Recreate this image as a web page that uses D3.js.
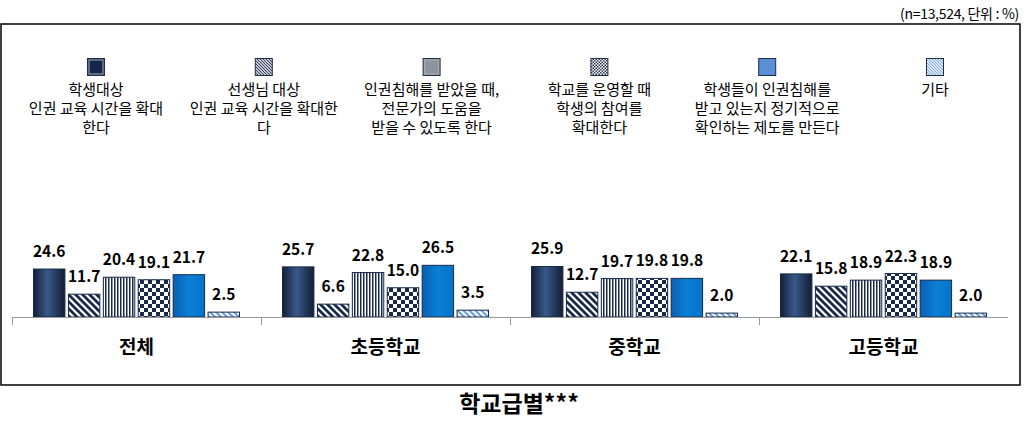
<!DOCTYPE html>
<html><head><meta charset="utf-8">
<script src="https://cdn.jsdelivr.net/npm/d3@7"></script>
<style>
body{margin:0;background:#fff;}
svg text{font-family:"Noto Sans CJK KR","Noto Sans",sans-serif;}
</style></head>
<body><svg id="c" width="1031" height="434"></svg>
<script>
const categories = ["전체","초등학교","중학교","고등학교"];
const seriesNames = [
  ["학생대상","인권 교육 시간을 확대","한다"],
  ["선생님 대상","인권 교육 시간을 확대한","다"],
  ["인권침해를 받았을 때,","전문가의 도움을","받을 수 있도록 한다"],
  ["학교를 운영할 때","학생의 참여를","확대한다"],
  ["학생들이 인권침해를","받고 있는지 정기적으로","확인하는 제도를 만든다"],
  ["기타"]
];
const s1 = [24.6,25.7,25.9,22.1];
const s2 = [11.7,6.6,12.7,15.8];
const s3 = [20.4,22.8,19.7,18.9];
const s4 = [19.1,15.0,19.8,22.3];
const s5 = [21.7,26.5,19.8,18.9];
const s6 = [2.5,3.5,2.0,2.0];
const seriesValues = [s1,s2,s3,s4,s5,s6];
const noteText = "(n=13,524, 단위 : %)";
const titleText = "학교급별***";

const svg = d3.select("#c");
const defs = svg.append("defs");
const navy = "#172a4a";

function hgrad(id, stops){
  const g = defs.append("linearGradient").attr("id",id).attr("x1","0%").attr("x2","100%").attr("y1","0").attr("y2","0");
  stops.forEach(s=>g.append("stop").attr("offset",s[0]).attr("stop-color",s[1]));
}
hgrad("g1",[["0%","#132038"],["45%","#38598a"],["100%","#121d33"]]);
hgrad("g5",[["0%","#0a5fb2"],["50%","#0a7fd6"],["100%","#0673c9"]]);

function pattern(id,w,h,draw){
  const p = defs.append("pattern").attr("id",id).attr("patternUnits","userSpaceOnUse").attr("width",w).attr("height",h);
  draw(p);
}
pattern("p2",7,7,p=>{
  p.append("rect").attr("width",7).attr("height",7).attr("fill","#fff");
  p.append("path").attr("d","M-2,-2 L9,9 M-2,5 L2,9 M5,-2 L9,2").attr("stroke",navy).attr("stroke-width",2.8);
});
pattern("p3",3,3,p=>{
  p.append("rect").attr("width",3).attr("height",3).attr("fill","#fff");
  p.append("rect").attr("width",1.5).attr("height",3).attr("fill",navy);
});
pattern("p4",8,8,p=>{
  p.append("rect").attr("width",8).attr("height",8).attr("fill","#fff");
  p.append("rect").attr("width",4).attr("height",4).attr("fill",navy);
  p.append("rect").attr("x",4).attr("y",4).attr("width",4).attr("height",4).attr("fill",navy);
});
pattern("p6",6,6,p=>{
  p.append("rect").attr("width",6).attr("height",6).attr("fill","#fff");
  p.append("path").attr("d","M-2,-2 L8,8 M-2,4 L2,8 M4,-2 L8,2").attr("stroke","#6b9ee0").attr("stroke-width",2);
});
pattern("l2",3,3,p=>{
  p.append("rect").attr("width",3).attr("height",3).attr("fill","#fff");
  p.append("path").attr("d","M-1,-1 L4,4 M-1,2 L1,4 M2,-1 L4,1").attr("stroke","#2a3a58").attr("stroke-width",1.1);
});
pattern("l4",3,3,p=>{
  p.append("rect").attr("width",3).attr("height",3).attr("fill","#fff");
  p.append("rect").attr("width",1.5).attr("height",1.5).attr("fill","#2a3a58");
  p.append("rect").attr("x",1.5).attr("y",1.5).attr("width",1.5).attr("height",1.5).attr("fill","#2a3a58");
});
pattern("l6",3,3,p=>{
  p.append("rect").attr("width",3).attr("height",3).attr("fill","#fff");
  p.append("path").attr("d","M-1,-1 L4,4 M-1,2 L1,4 M2,-1 L4,1").attr("stroke","#7ea9e0").attr("stroke-width",1.1);
});

const barFills = ["url(#g1)","url(#p2)","url(#p3)","url(#p4)","url(#g5)","url(#p6)"];
const legendFills = ["#14264a","url(#l2)","#8c939b","url(#l4)","#5a8fd6","url(#l6)"];

svg.append("rect").attr("x",1).attr("y",24).attr("width",1019).attr("height",361)
  .attr("fill","none").attr("stroke","#000").attr("stroke-width",1.5);
svg.append("text").attr("x",1019).attr("y",19).attr("text-anchor","end")
  .attr("font-size",14).attr("letter-spacing",-0.3).attr("fill","#000").text(noteText);

const x0 = d3.scaleBand().domain(categories).range([12,1008]).padding(0);
const x1 = d3.scaleBand().domain(d3.range(6)).range([21.5, x0.bandwidth()-21.5]).paddingInner(0.1);
const y = d3.scaleLinear().domain([0,60]).range([317,200]);

const groups = svg.append("g").selectAll("g").data(categories).join("g")
  .attr("transform",c=>`translate(${x0(c)},0)`);
groups.each(function(c,ci){
  const g = d3.select(this);
  seriesValues.forEach((vals,si)=>{
    const v = vals[ci];
    g.append("rect").attr("x",x1(si)).attr("y",y(v)).attr("width",x1.bandwidth()).attr("height",y(0)-y(v))
      .attr("fill",barFills[si]).attr("stroke",navy).attr("stroke-width",1);
    g.append("text").attr("x",x1(si)+x1.bandwidth()/2).attr("y",y(v)-12)
      .attr("text-anchor","middle").attr("font-size",15.5).attr("font-weight","bold").attr("fill","#000")
      .text(v.toFixed(1));
  });
});

const axisG = svg.append("g");
axisG.append("line").attr("x1",12).attr("x2",1008).attr("y1",y(0)+0.5).attr("y2",y(0)+0.5)
  .attr("stroke","#9a9a9a").attr("stroke-width",1.2);
axisG.selectAll("line.tk").data(categories).join("line").attr("class","tk")
  .attr("x1",c=>x0(c)+0.5).attr("x2",c=>x0(c)+0.5).attr("y1",y(0)).attr("y2",y(0)+8)
  .attr("stroke","#9a9a9a").attr("stroke-width",1);
axisG.selectAll("text.cat").data(categories).join("text").attr("class","cat")
  .attr("x",c=>x0(c)+x0.bandwidth()/2).attr("y",354).attr("text-anchor","middle")
  .attr("font-size",19).attr("font-weight","bold").attr("fill","#000").text(c=>c);

const lx = d3.scaleLinear().domain([0,5]).range([96,935]);
seriesNames.forEach((lines,i)=>{
  const cx = lx(i);
  svg.append("rect").attr("x",cx-8.5).attr("y",58.5).attr("width",17).attr("height",17)
    .attr("fill",legendFills[i]).attr("stroke","#1e2d4a").attr("stroke-width",1);
  if(i===0||i===2){
    svg.append("rect").attr("x",cx-7).attr("y",60).attr("width",14).attr("height",14)
      .attr("fill","none").attr("stroke","#a9b0b8").attr("stroke-width",1);
  }
  const t = svg.append("text").attr("text-anchor","middle").attr("font-size",15).attr("fill","#000");
  lines.forEach((ln,j)=>{
    t.append("tspan").attr("x",cx).attr("y",95+j*19).text(ln);
  });
});

svg.append("text").attr("x",519).attr("y",412).attr("text-anchor","middle")
  .attr("font-size",23).attr("font-weight","bold").attr("fill","#000").text(titleText);
</script></body></html>
